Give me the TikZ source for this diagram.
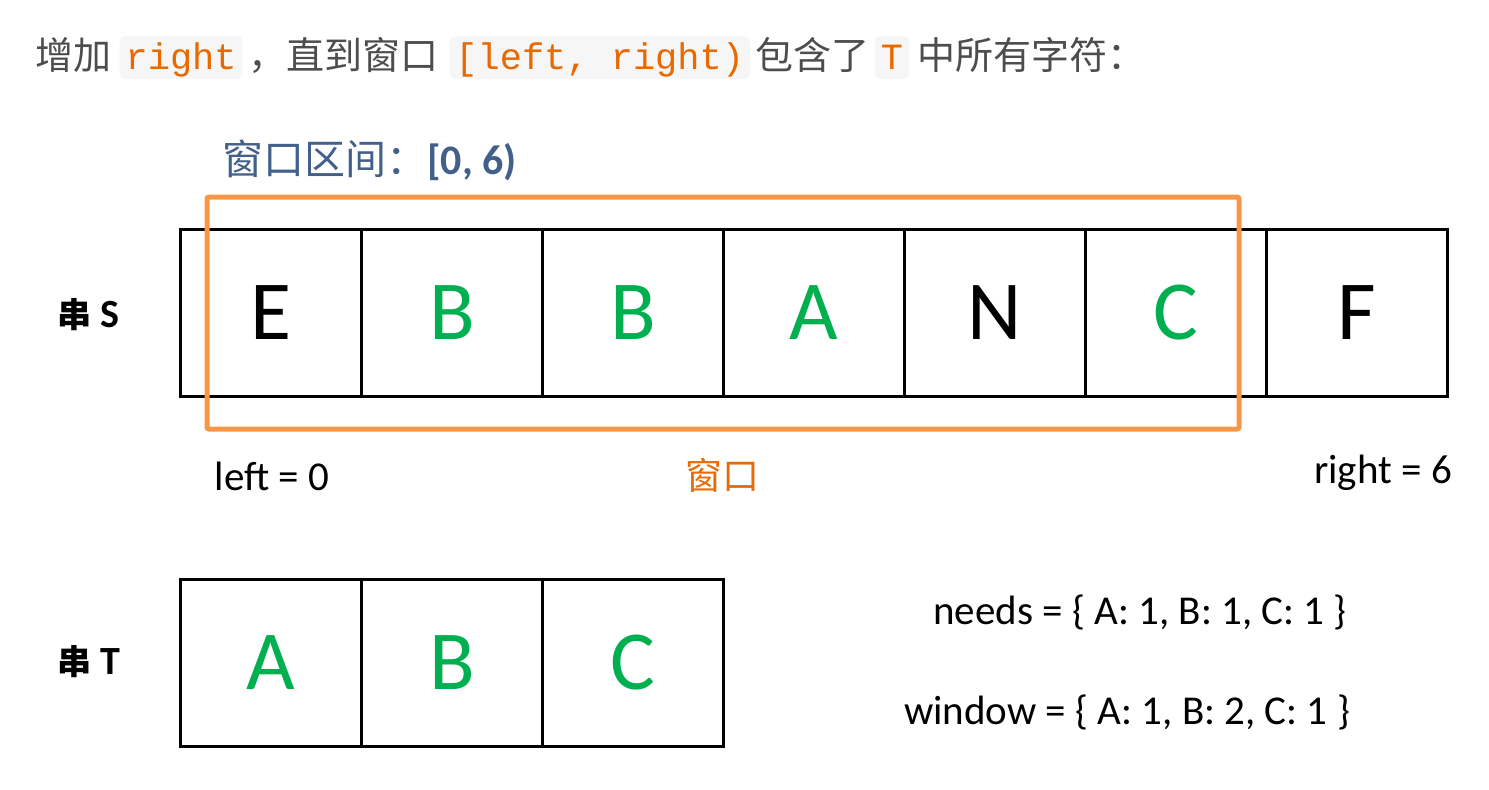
\documentclass[tikz,border=0pt]{standalone}
\usepackage{fontspec}
\setmainfont{Carlito}
\newfontfamily\cjk{Noto Sans CJK SC}
\newfontfamily\codefont{Liberation Mono}
\usetikzlibrary{positioning}

\definecolor{hitgreen}{RGB}{0,176,80}
\definecolor{winorange}{RGB}{247,150,70}
\definecolor{labelorange}{RGB}{228,108,10}
\definecolor{codeorange}{RGB}{233,105,0}
\definecolor{codebg}{RGB}{246,246,246}
\definecolor{titleblue}{RGB}{66,96,138}
\definecolor{bodygray}{RGB}{77,77,77}

\begin{document}
\begin{tikzpicture}[x=1pt,y=-1pt,
 cell/.style={draw,line width=3pt,minimum width=181pt,minimum height=167pt,
  inner sep=0pt,outer sep=0pt,font=\fontsize{84}{84}\selectfont},
 hit/.style={cell,text=hitgreen},
 rowlabel/.style={anchor=west,inner sep=0pt,font=\fontsize{40}{40}\selectfont\bfseries},
 note/.style={inner sep=0pt,font=\fontsize{41}{41}\selectfont},
 body/.style={anchor=base west,inner sep=0pt,text=bodygray,
  font=\cjk\fontsize{38}{38}\selectfont},
 code/.style={anchor=base west,fill=codebg,rounded corners=6pt,inner xsep=6pt,
  inner ysep=0pt,text height=33pt,text depth=10pt,text=codeorange,
  font=\codefont\fontsize{37}{37}\selectfont}]

\useasboundingbox (0,0) rectangle (1489,790);

% intro line
\node[body] (intro1) at (35,69) {增加};
\node[code] (code1) at ([xshift=8pt]intro1.base east) {right};
\node[body] (intro2) at ([xshift=5pt]code1.base east) {，直到窗口};
\node[code] (code2) at ([xshift=11pt]intro2.base east) {[left, right)};
\node[body] (intro3) at ([xshift=5pt]code2.base east) {包含了};
\node[code] (code3) at ([xshift=5pt]intro3.base east) {T};
\node[body] (intro4) at ([xshift=8pt]code3.base east) {中所有字符：};

% window range
\node[anchor=west,inner sep=0pt,text=titleblue,font=\cjk\fontsize{41}{41}\selectfont]
 (range) at (222,160) {窗口区间：{\normalfont\fontsize{42}{42}\selectfont\bfseries [0, 6)}};

% string S
\node[rowlabel] (slabel) at (57,315) {{\cjk\fontsize{34}{34}\selectfont 串} S};
\node[cell] (s0) at (271,313) {E};
\node[hit, right=0pt of s0] (s1) {B};
\node[hit, right=0pt of s1] (s2) {B};
\node[hit, right=0pt of s2] (s3) {A};
\node[cell, right=0pt of s3] (s4) {N};
\node[hit, right=0pt of s4] (s5) {C};
\node[cell, right=0pt of s5] (s6) {F};

% window
\node[draw=winorange,line width=5pt,rounded corners=2pt,minimum width=1032pt,
 minimum height=232pt,inner sep=0pt] (win) at (723,313) {};

\node[note] (leftnote) at (272,476) {left = 0};
\node[note,text=labelorange,font=\cjk\fontsize{37}{37}\selectfont] (winnote) at (722,475) {窗口};
\node[note] (rightnote) at (1383,473) {right = 6};

% string T
\node[rowlabel] (tlabel) at (57,662) {{\cjk\fontsize{34}{34}\selectfont 串} T};
\node[hit] (t0) at (271,663) {A};
\node[hit, right=0pt of t0] (t1) {B};
\node[hit, right=0pt of t1] (t2) {C};

\node[note] (needs) at (1140,612) {needs = \{ A: 1, B: 1, C: 1 \}};
\node[note] (window) at (1127,712) {window = \{ A: 1, B: 2, C: 1 \}};

\end{tikzpicture}
\end{document}
